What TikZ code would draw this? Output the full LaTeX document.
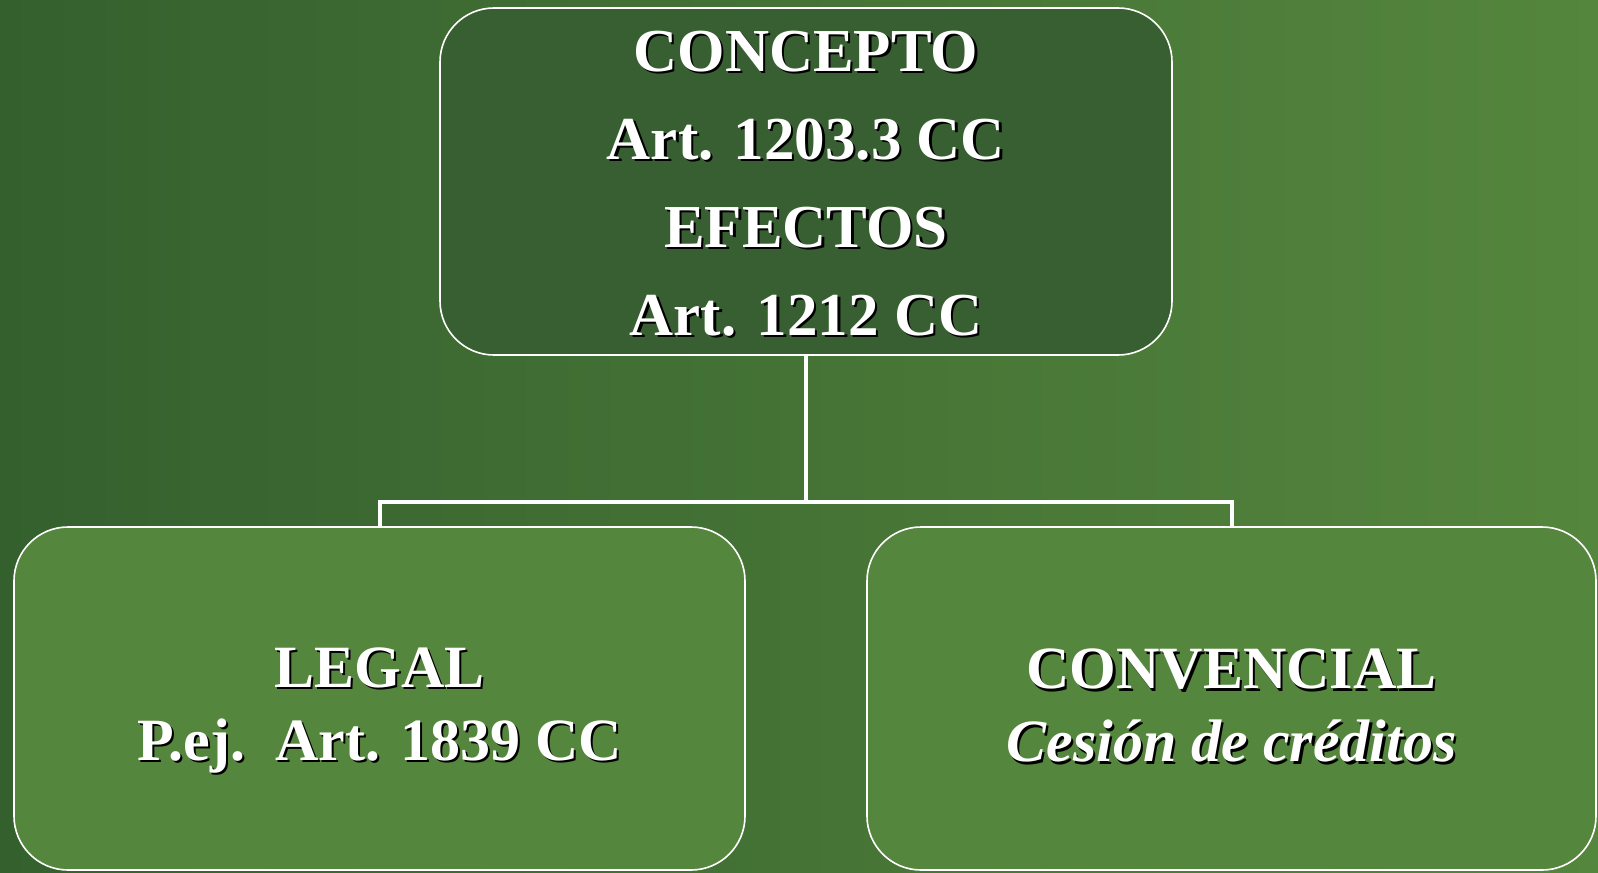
\documentclass[tikz,border=0pt]{standalone}
\usepackage{fontspec}
\setmainfont{Liberation Serif}
\definecolor{bgdark}{HTML}{34602E}
\definecolor{bglight}{HTML}{55863D}
\definecolor{topfill}{HTML}{385F32}
\definecolor{botfill}{HTML}{55863D}
\newcommand\shd[1]{\leavevmode\rlap{\kern2.2bp\raisebox{-2.2bp}{\color{black}#1}}#1}
\tikzset{
  box/.style={draw=white, line width=1.6bp, rounded corners=54bp, inner sep=0pt},
  txt/.style={inner sep=0pt, text=white, align=center},
  link/.style={draw=white, line width=4bp},
}
\begin{document}
\begin{tikzpicture}[x=1bp,y=-1bp]
\useasboundingbox (0,0) rectangle (1598,872);
\shade[left color=bgdark, right color=bglight] (0,0) rectangle (1598,872);
\coordinate (j) at (806,502);
\draw[link] (806,355) -- (j);
\node[box, fill=topfill, minimum width=732bp, minimum height=347bp] (top) at (806,181.5) {};
\node[box, fill=botfill, minimum width=731bp, minimum height=343bp] (legal) at (379.5,698.5) {};
\node[box, fill=botfill, minimum width=729bp, minimum height=343bp] (conv) at (1231.5,698.5) {};
\draw[link] (top.south) -- (j) -| (legal.north);
\draw[link] (j) -| (conv.north);
\node[txt, font=\fontsize{61bp}{88bp}\selectfont\bfseries] (toptxt) at (806,185)
  {\shd{CONCEPTO}\\ \shd{Art. 1203.3 CC}\\ \shd{EFECTOS}\\ \shd{Art. 1212 CC}};
\node[txt, font=\fontsize{60bp}{73bp}\selectfont\bfseries] (legaltxt) at (379.5,711.5)
  {\shd{LEGAL}\\ \shd{P.ej.\ \ Art. 1839 CC}};
\node[txt, font=\fontsize{60bp}{73bp}\selectfont\bfseries] (convtxt) at (1231.5,707)
  {\shd{CONVENCIAL}\\ \shd{\itshape Cesión de créditos}};
\end{tikzpicture}
\end{document}
